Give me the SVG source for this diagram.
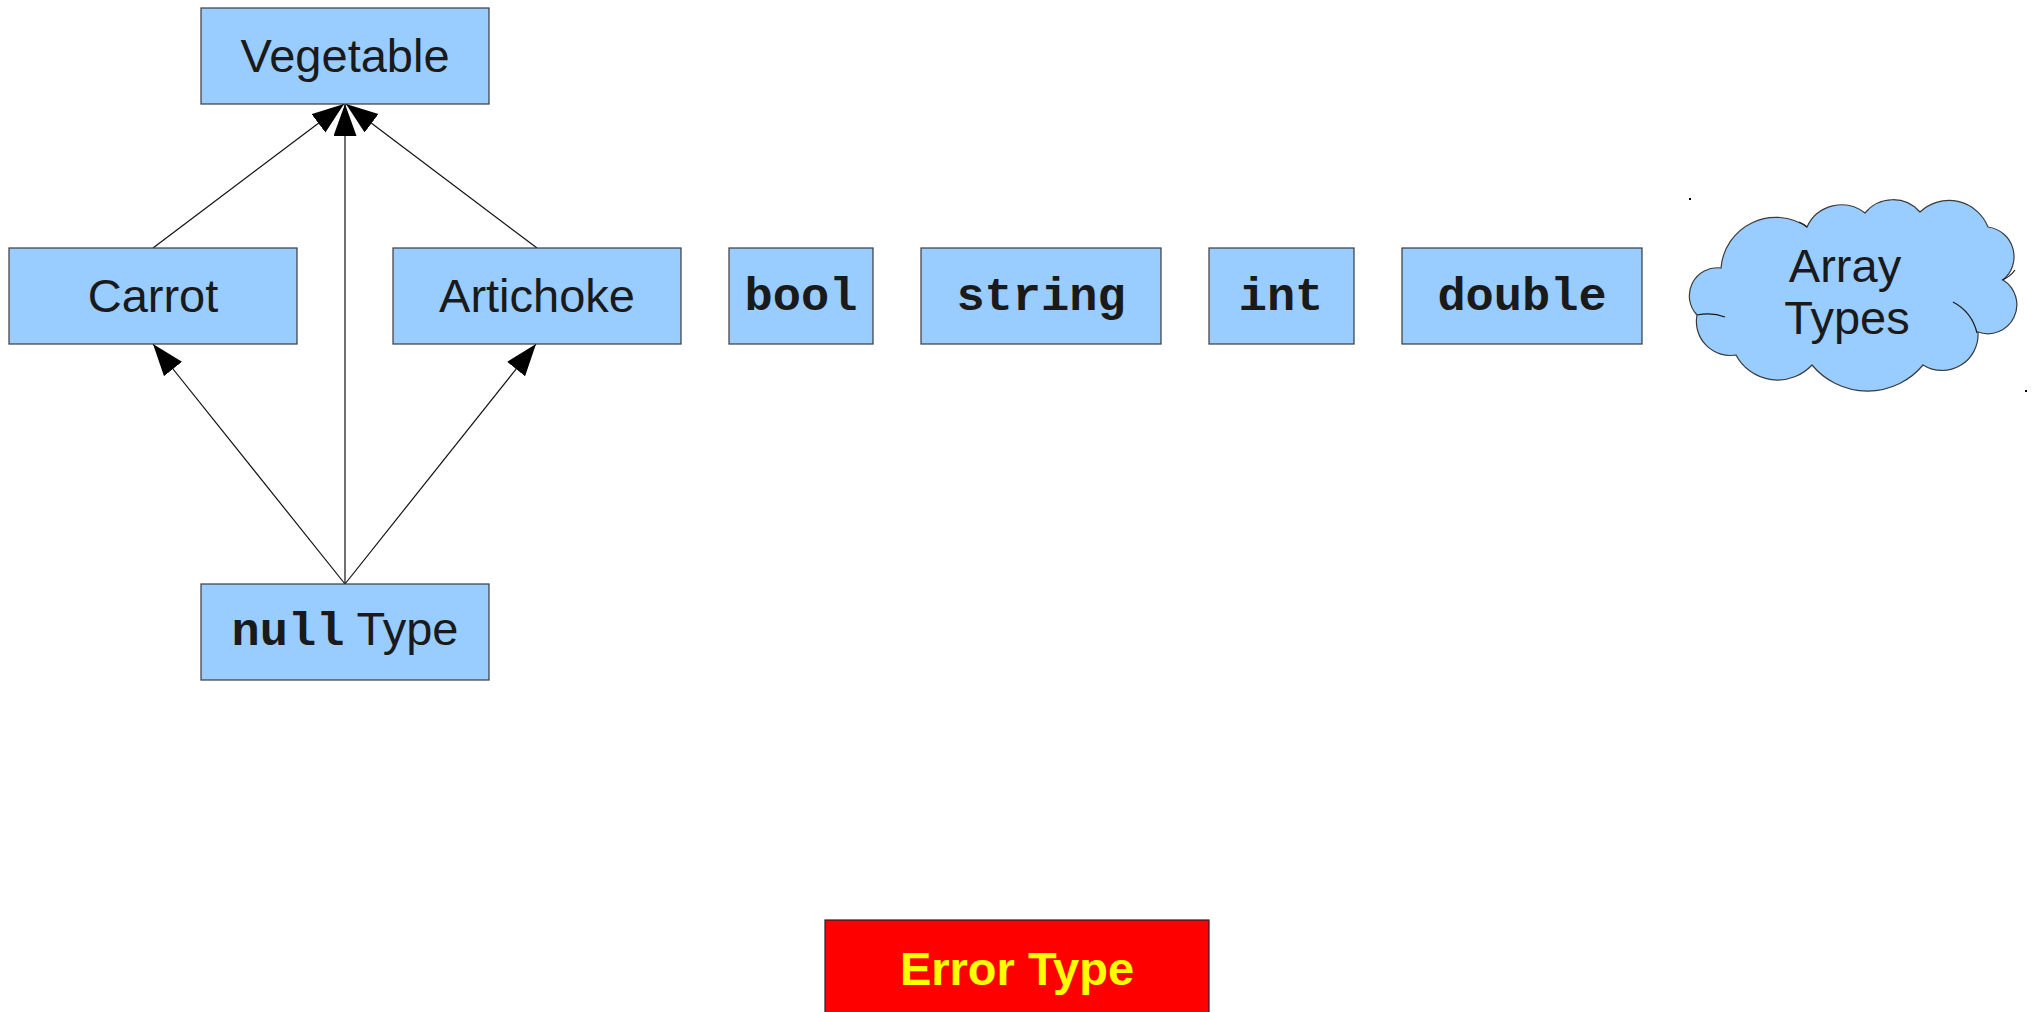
<svg xmlns="http://www.w3.org/2000/svg" width="2033" height="1012" viewBox="0 0 2033 1012">
<style>
.box{fill:#99ccff;stroke:#3a3a3a;stroke-width:1.2}
.sans{font-family:"Liberation Sans",Arial,sans-serif;font-size:47px;fill:#1a1a1a}
.mono{font-family:"Liberation Mono","Courier New",monospace;font-size:47px;font-weight:bold;fill:#1a1a1a}
.edge{stroke:#111;stroke-width:1.2;fill:none;marker-end:url(#arr)}
.inner{fill:none;stroke:#1a1a1a;stroke-width:1.2}
</style>
<defs>
<marker id="arr" markerUnits="userSpaceOnUse" markerWidth="34" markerHeight="24" refX="32" refY="11.5" orient="auto">
<path d="M0,0 L32,11.5 L0,23 Z" fill="#000"/>
</marker>
</defs>
<rect width="2033" height="1012" fill="#fff"/>
<g id="connectors">
<line class="edge" x1="153" y1="248" x2="344" y2="104"/>
<line class="edge" x1="537" y1="248" x2="346" y2="104"/>
<line class="edge" x1="345" y1="584" x2="345" y2="104"/>
<line class="edge" x1="345" y1="584" x2="153" y2="344"/>
<line class="edge" x1="345" y1="584" x2="536" y2="344"/>
</g>
<g id="vegetable">
<rect class="box" x="201" y="8" width="288" height="96"/>
<text class="sans" x="345" y="72" text-anchor="middle">Vegetable</text>
</g>
<g id="carrot">
<rect class="box" x="9" y="248" width="288" height="96"/>
<text class="sans" x="153" y="312" text-anchor="middle">Carrot</text>
</g>
<g id="artichoke">
<rect class="box" x="393" y="248" width="288" height="96"/>
<text class="sans" x="537" y="312" text-anchor="middle">Artichoke</text>
</g>
<g id="bool">
<rect class="box" x="729" y="248" width="144" height="96"/>
<text class="mono" x="801" y="310" text-anchor="middle">bool</text>
</g>
<g id="string">
<rect class="box" x="921" y="248" width="240" height="96"/>
<text class="mono" x="1041" y="310" text-anchor="middle">string</text>
</g>
<g id="int">
<rect class="box" x="1209" y="248" width="145" height="96"/>
<text class="mono" x="1281" y="310" text-anchor="middle">int</text>
</g>
<g id="double">
<rect class="box" x="1402" y="248" width="240" height="96"/>
<text class="mono" x="1522" y="310" text-anchor="middle">double</text>
</g>
<g id="array-types">
<path class="box" d="M1721,268 A55,55 0 0 1 1807,227 A38,38 0 0 1 1865,213 A36,36 0 0 1 1920,212 A42,42 0 0 1 1988,227 A30,30 0 0 1 2003,280 A29,29 0 0 1 1978,332 A36,36 0 0 1 1923,365 A72,72 0 0 1 1812,365 A47,47 0 0 1 1736,355 A34,34 0 0 1 1697,315 A28,28 0 0 1 1721,268 Z"/>
<path class="inner" d="M1697,315 Q1712,312 1725,317"/>
<path class="inner" d="M1953,302 Q1972,312 1977,333"/>
<path class="inner" d="M2015,270 Q2010,277 2002,280"/>
<path class="inner" d="M1799,222 Q1804,224 1807,227"/>
<rect x="1689" y="198" width="2" height="2" fill="#000"/>
<rect x="2025" y="390" width="2" height="2" fill="#000"/>
<text class="sans" x="1845" y="282" text-anchor="middle">Array</text>
<text class="sans" x="1847" y="334" text-anchor="middle">Types</text>
</g>
<g id="null-type">
<rect class="box" x="201" y="584" width="288" height="96"/>
<text x="345" y="645" text-anchor="middle"><tspan class="mono">null</tspan><tspan class="sans"> Type</tspan></text>
</g>
<g id="error-type">
<rect x="825" y="920" width="384" height="96" fill="#ff0000" stroke="#222" stroke-width="1.2"/>
<text x="1017" y="985" text-anchor="middle" font-family="Liberation Sans, Arial, sans-serif" font-size="47" font-weight="bold" fill="#ffff00">Error Type</text>
</g>
</svg>
